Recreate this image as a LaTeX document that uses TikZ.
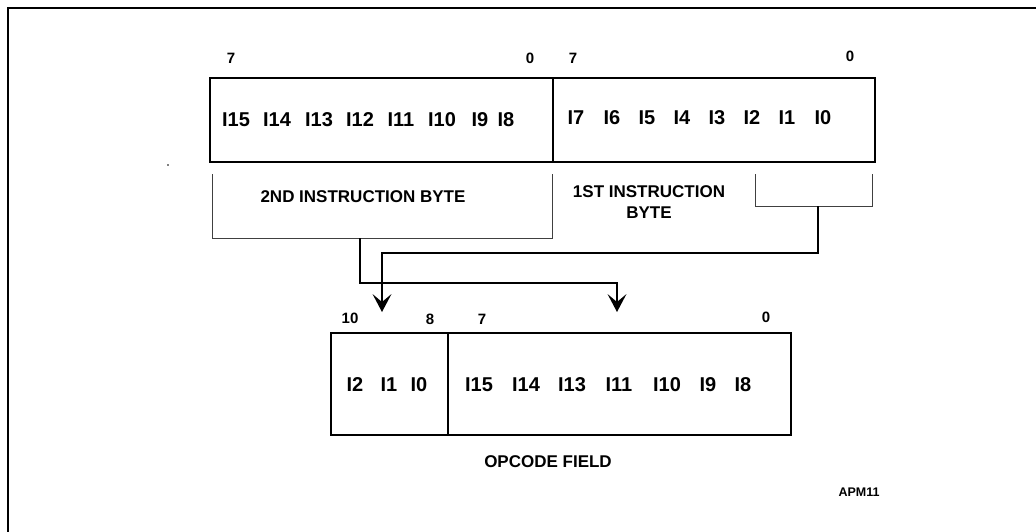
\documentclass[tikz,border=0pt]{standalone}
\usepackage{fontspec}
\setmainfont{Liberation Sans}
\usetikzlibrary{arrows.meta}
\begin{document}
\begin{tikzpicture}[x=1pt,y=-1pt,
  regbox/.style={draw,line width=2.4pt,inner sep=0pt,outer sep=0pt},
  bitlbl/.style={font=\fontsize{20}{22}\selectfont\bfseries,inner sep=0pt},
  idxlbl/.style={font=\fontsize{15}{17}\selectfont\bfseries,inner sep=0pt},
  caplbl/.style={font=\fontsize{17}{21}\selectfont\bfseries,inner sep=0pt,align=center},
  brk/.style={draw,line width=0.9pt,black!75},
  flow/.style={draw,line width=1.1pt,-{Stealth[length=18pt,width=19pt,inset=8pt,line width=0pt]}}
]
\useasboundingbox (0,0) rectangle (1036,532);
% outer frame (top and left only)
\draw[line width=2.2pt] (8,532) -- (8,8) -- (1036,8);
\fill (168,165) circle (0.8pt);

% top register
\node[regbox,minimum width=343pt,minimum height=84pt] (b2) at (381.5,120) {};
\node[regbox,minimum width=322pt,minimum height=84pt] (b1) at (714,120) {};

\node[idxlbl] (t7a) at (231,58) {7};
\node[idxlbl] (t0a) at (530,58) {0};
\node[idxlbl] (t7b) at (573,58) {7};
\node[idxlbl] (t0b) at (850,56) {0};

\foreach \n/\x in {15/236,14/277,13/319,12/360,11/401,10/442,9/480,8/506}
  \node[bitlbl] (h\n) at (\x,120) {I\n};
\foreach \n/\x in {7/576,6/612,5/647,4/682,3/717,2/752,1/787,0/823}
  \node[bitlbl] (l\n) at (\x,118) {I\n};

% brackets
\draw[brk] (212,174) -- (212,238) -- (552,238) -- (552,174);
\draw[brk] (755,174) -- (755,206) -- (872,206) -- (872,174);
\node[caplbl] (c2) at (363,197) {2ND INSTRUCTION BYTE};
\node[caplbl] (c1) at (649,202) {1ST INSTRUCTION\\BYTE};

\coordinate (m2) at (360,238);
\coordinate (m1) at (818,206);
\coordinate (ta) at (617,312);
\coordinate (tb) at (382,312);
\draw[flow] (m2) -- ++(0,45) -| (ta);
\draw[flow] (m1) -- ++(0,47) -| (tb);

% bottom register
\node[regbox,minimum width=117pt,minimum height=102pt] (o2) at (389.5,384) {};
\node[regbox,minimum width=343pt,minimum height=102pt] (o1) at (619.5,384) {};

\node[idxlbl] (u10) at (350,318) {10};
\node[idxlbl] (u8) at (430,319) {8};
\node[idxlbl] (u7) at (482,319) {7};
\node[idxlbl] (u0) at (766,317) {0};

\foreach \n/\x in {2/355,1/389,0/419}
  \node[bitlbl] (p\n) at (\x,385) {I\n};
\foreach \n/\x in {15/479,14/526,13/572,11/619,10/667,9/708,8/743}
  \node[bitlbl] (q\n) at (\x,385) {I\n};

\node[caplbl] (opf) at (548,462) {OPCODE FIELD};
\node[font=\fontsize{12.5}{14}\selectfont\bfseries,inner sep=0pt] (apm) at (859,492) {APM11};
\end{tikzpicture}
\end{document}
